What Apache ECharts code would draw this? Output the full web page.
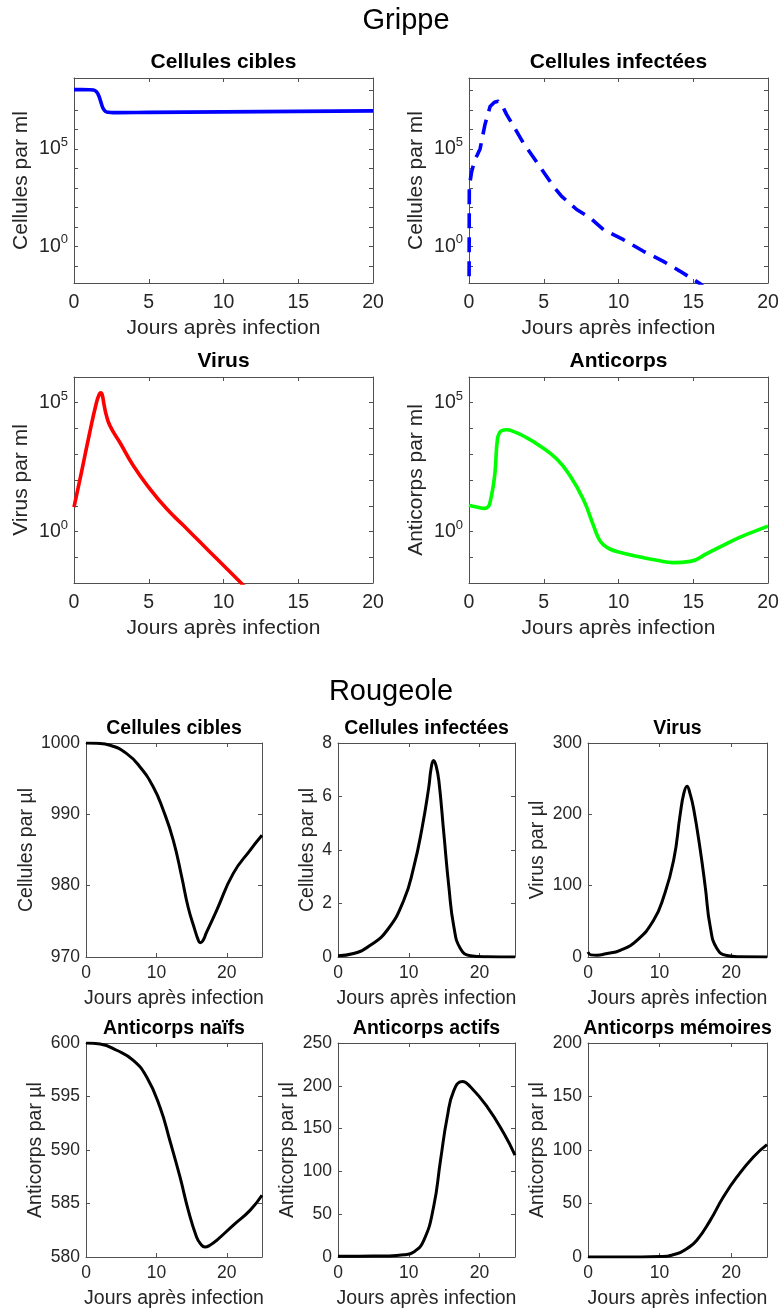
<!DOCTYPE html>
<html>
<head>
<meta charset="utf-8">
<script src="https://cdn.jsdelivr.net/npm/echarts@6/dist/echarts.min.js"></script>
<style>
  html, body { margin: 0; padding: 0; background: #ffffff; }
  #chart { width: 782px; height: 1310px; }
</style>
</head>
<body>
<div id="chart"></div>
<script>
// ---------- Grippe (échelle logarithmique, jours 0–20) ----------
const grippeCiblesJours = [0, 0.5, 1.0, 1.3, 1.5, 1.65, 1.8, 1.95, 2.1, 2.3, 2.6, 3, 5, 10, 15, 20];
const grippeCiblesVal   = [1.1e8, 1.1e8, 1.09e8, 1.05e8, 8.5e7, 5.5e7, 2.5e7, 1.2e7, 8.5e6, 7.6e6, 7.3e6, 7.3e6, 7.5e6, 8.0e6, 8.5e6, 9.0e6];

const grippeInfecteesJours = [0, 0.02, 0.18, 0.4, 0.56, 0.74, 1.07, 1.41, 1.7, 1.95, 2.2, 2.52, 3.0, 3.64, 4.2, 4.87, 5.65, 6.2, 7.2, 8.1, 9.0, 10.33, 11.67, 13.0, 14.1, 15.47, 16];
const grippeInfecteesVal   = [1e-4, 1.2e3, 7e3, 3e4, 5e4, 1e5, 1.8e6, 1.5e7, 2.5e7, 2.8e7, 1.8e7, 5.8e6, 1.4e6, 2e5, 4.9e4, 8.7e3, 1.2e3, 370, 78, 29, 7.2, 2.2, 0.56, 0.17, 0.054, 0.012, 0.005];

const grippeVirusJours = [0, 0.5, 1.0, 1.5, 1.7, 1.8, 1.9, 2.0, 2.15, 2.41, 3.08, 3.97, 5.08, 6.2, 7.31, 8.43, 9.55, 10.66, 11.5];
const grippeVirusVal   = [8.9, 200, 5000, 1e5, 2.2e5, 2.45e5, 1.9e5, 9e4, 3.5e4, 1.26e4, 2.8e3, 355, 45, 7.6, 1.74, 0.39, 0.087, 0.02, 0.0065];

const grippeAnticorpsJours = [0, 0.5, 1.07, 1.3, 1.41, 1.6, 1.74, 1.9, 2.05, 2.2, 2.5, 3.0, 3.64, 4.75, 5.87, 6.76, 7.65, 8.32, 8.7, 9.0, 9.5, 10.0, 11.45, 12.57, 13.68, 14.8, 15.9, 17.0, 18.14, 19.26, 20];
const grippeAnticorpsVal   = [10.5, 8.9, 7.9, 9.5, 13.8, 50, 200, 3800, 7000, 8300, 8900, 7600, 5100, 2100, 650, 145, 17.4, 1.74, 0.5, 0.3, 0.2, 0.16, 0.102, 0.076, 0.062, 0.069, 0.138, 0.29, 0.6, 1.1, 1.62];

// ---------- Rougeole (échelle linéaire, jours 0–25) ----------
const rougeoleCiblesJours = [0, 1.5, 3.4, 5.78, 7.67, 9.56, 10.98, 12.4, 13.6, 14.5, 15.48, 15.9, 16.2, 16.55, 17.1, 18.56, 20.9, 23.3, 25];
const rougeoleCiblesVal   = [1000, 999.95, 999.68, 998.51, 996.64, 993.83, 990.57, 986.36, 981.22, 977.01, 973.74, 972.5, 972.0, 972.2, 973.4, 976.55, 981.69, 984.96, 987.06];

const rougeoleInfecteesJours = [0, 2.2, 4.57, 6.94, 9.29, 10.7, 11.9, 12.83, 13.15, 13.5, 13.85, 14.24, 14.95, 15.66, 16.37, 17.3, 18.7, 21, 25];
const rougeoleInfecteesVal   = [0.05, 0.13, 0.44, 1.0, 2.12, 3.36, 4.86, 6.36, 7.05, 7.35, 7.15, 6.6, 4.61, 2.62, 1.12, 0.31, 0.05, 0.01, 0.0];

const rougeoleVirusJours = [0, 0.4, 1.26, 2.5, 4.5, 6.84, 9.16, 10.56, 11.96, 12.89, 13.4, 13.83, 14.25, 14.75, 15.68, 16.38, 17.08, 18.0, 19.4, 21, 25];
const rougeoleVirusVal   = [7, 3, 2.4, 4.5, 9.4, 23.4, 51.4, 84, 135.6, 201, 230, 239.5, 229, 208, 150, 98, 42, 11.8, 2, 0.3, 0.1];

const rougeoleNaifsJours = [0, 2, 4.36, 6.72, 8.62, 10.5, 11.9, 13.35, 14.53, 15.7, 16.3, 16.9, 17.6, 18.56, 20.9, 23.3, 25];
const rougeoleNaifsVal   = [600, 599.9, 599.32, 598.38, 596.82, 594.02, 590.91, 587.48, 584.36, 581.87, 581.2, 580.93, 581.1, 581.56, 582.96, 584.36, 585.77];

const rougeoleActifsJours = [0, 3, 6.94, 9.29, 10.7, 12.12, 13.5, 14.48, 15.43, 16.37, 17.55, 18.73, 21.1, 23.44, 25];
const rougeoleActifsVal   = [1, 1, 1.2, 2.5, 5.8, 19.5, 58.4, 113, 163.5, 194.7, 205, 198.6, 175.2, 144.2, 119];

const rougeoleMemoiresJours = [0, 5, 10.05, 12.4, 13.8, 15.2, 17.05, 18.9, 20.8, 23.1, 25];
const rougeoleMemoiresVal   = [0, 0, 0.5, 3, 7.8, 15.6, 34, 56, 74.8, 93.5, 105];

// ---------- Graduations ----------
const grippeJoursTicks   = [0, 5, 10, 15, 20];
const rougeoleJoursTicks = [0, 10, 20];
const logLabelTicks      = [1, 1e5];
const logDecadesHaut     = [0.1, 1, 10, 100, 1e3, 1e4, 1e5, 1e6, 1e7, 1e8];
const logDecadesBas      = [0.1, 1, 10, 100, 1e3, 1e4, 1e5];

const FONT = 'Liberation Sans';
const INK = '#262626';
const FRAME = '#505050';
const XNAME = 'Jours après infection';

const zip = (t, v) => t.map((x, i) => [x, v[i]]);

// Panel definitions: box = [left, top, width, height] in px
const panels = [
  { title: 'Cellules cibles', yName: 'Cellules par ml', box: [74, 78, 299, 205], data: zip(grippeCiblesJours, grippeCiblesVal),
    color: '#0000ff', log: [0.0132, 4.37e8], decades: logDecadesHaut, grippe: true, yGap: 42 },
  { title: 'Cellules infectées', yName: 'Cellules par ml', box: [469, 78, 299, 205], data: zip(grippeInfecteesJours, grippeInfecteesVal),
    color: '#0000ff', dashed: true, log: [0.0132, 4.37e8], decades: logDecadesHaut, grippe: true, yGap: 42 },
  { title: 'Virus', yName: 'Virus par ml', box: [74, 377, 299, 206], data: zip(grippeVirusJours, grippeVirusVal),
    color: '#ff0000', log: [0.01, 1e6], decades: logDecadesBas, grippe: true, yGap: 42 },
  { title: 'Anticorps', yName: 'Anticorps par ml', box: [469, 377, 299, 206], data: zip(grippeAnticorpsJours, grippeAnticorpsVal),
    color: '#00ff00', log: [0.01, 1e6], decades: logDecadesBas, grippe: true, yGap: 42 },

  { title: 'Cellules cibles', yName: 'Cellules par µl', box: [86, 743, 176, 214], data: zip(rougeoleCiblesJours, rougeoleCiblesVal),
    color: '#000000', lin: [970, 1000, 10], yGap: 49 },
  { title: 'Cellules infectées', yName: 'Cellules par µl', box: [338, 743, 177, 214], data: zip(rougeoleInfecteesJours, rougeoleInfecteesVal),
    color: '#000000', lin: [0, 8, 2], yGap: 20 },
  { title: 'Virus', yName: 'Virus par µl', box: [588, 743, 179, 214], data: zip(rougeoleVirusJours, rougeoleVirusVal),
    color: '#000000', lin: [0, 300, 100], yGap: 40 },
  { title: 'Anticorps naïfs', yName: 'Anticorps par µl', box: [86, 1043, 176, 214], data: zip(rougeoleNaifsJours, rougeoleNaifsVal),
    color: '#000000', lin: [580, 600, 5], yGap: 40 },
  { title: 'Anticorps actifs', yName: 'Anticorps par µl', box: [338, 1043, 177, 214], data: zip(rougeoleActifsJours, rougeoleActifsVal),
    color: '#000000', lin: [0, 250, 50], yGap: 40 },
  { title: 'Anticorps mémoires', yName: 'Anticorps par µl', box: [588, 1043, 179, 214], data: zip(rougeoleMemoiresJours, rougeoleMemoiresVal),
    color: '#000000', lin: [0, 200, 50], yGap: 40 }
];

const grids = [], xAxes = [], yAxes = [], series = [];
const titles = [
  { text: 'Grippe', left: 406, top: 6, textAlign: 'center', padding: 0,
    textStyle: { fontFamily: FONT, fontSize: 29, fontWeight: 'normal', color: '#000' } },
  { text: 'Rougeole', left: 391, top: 677, textAlign: 'center', padding: 0,
    textStyle: { fontFamily: FONT, fontSize: 29, fontWeight: 'normal', color: '#000' } }
];

const logLabel = v => {
  const e = Math.log10(v);
  const r = Math.round(e);
  if (Math.abs(e - r) > 0.01 || r % 5 !== 0) return '';
  return '{b|10}{s|' + r + '}';
};
const plainLabel = v => String(v);

panels.forEach((p, i) => {
  const [left, top, width, height] = p.box;
  const g = !!p.grippe;
  const tickFs = g ? 19.5 : 17.5;
  const nameFs = g ? 21 : 19.5;
  const titleFs = g ? 21 : 19.5;

  grids.push({ left, top, width, height, containLabel: false });

  titles.push({
    text: p.title, left: left + width / 2, top: top - (g ? 26 : 24), textAlign: 'center', padding: 0,
    textStyle: { fontFamily: FONT, fontSize: titleFs, fontWeight: 'bold', color: '#000' }
  });

  const tickCommon = { show: true, inside: true, length: 4, lineStyle: { color: FRAME, width: 1 } };
  const lineCommon = { show: true, onZero: false, lineStyle: { color: FRAME, width: 1 } };
  const xTicks = g ? grippeJoursTicks : rougeoleJoursTicks;
  const xMax = g ? 20 : 25;

  const xBase = {
    type: 'value', gridIndex: i, min: 0, max: xMax,
    axisLine: lineCommon, splitLine: { show: false },
    axisTick: Object.assign({ customValues: xTicks }, tickCommon)
  };
  xAxes.push(Object.assign({}, xBase, {
    position: 'bottom',
    axisLabel: { customValues: xTicks, formatter: plainLabel, margin: g ? 10 : 7, fontFamily: FONT, fontSize: tickFs, color: INK },
    name: XNAME, nameLocation: 'middle', nameGap: g ? 35 : 32,
    nameTextStyle: { fontFamily: FONT, fontSize: nameFs, color: INK }
  }));
  xAxes.push(Object.assign({}, xBase, { position: 'top', axisLabel: { show: false } }));

  let yBase;
  if (p.log) {
    yBase = {
      type: 'log', logBase: 10, gridIndex: i, min: p.log[0], max: p.log[1],
      axisLine: lineCommon, splitLine: { show: false }, minorTick: { show: false },
      axisTick: Object.assign({ customValues: p.decades }, tickCommon)
    };
  } else {
    yBase = {
      type: 'value', gridIndex: i, min: p.lin[0], max: p.lin[1], interval: p.lin[2],
      axisLine: lineCommon, splitLine: { show: false },
      axisTick: tickCommon
    };
  }
  const yLabel = p.log
    ? { customValues: logLabelTicks, formatter: logLabel, margin: 6, fontFamily: FONT, fontSize: tickFs, color: INK,
        rich: { b: { fontFamily: FONT, fontSize: tickFs, color: INK, lineHeight: 26 },
                s: { fontFamily: FONT, fontSize: 13, color: INK, verticalAlign: 'top', lineHeight: 26 } } }
    : { formatter: plainLabel, margin: 6, fontFamily: FONT, fontSize: tickFs, color: INK };

  yAxes.push(Object.assign({}, yBase, {
    position: 'left', axisLabel: yLabel,
    name: p.yName, nameLocation: 'middle', nameGap: p.yGap,
    nameTextStyle: { fontFamily: FONT, fontSize: nameFs, color: INK }
  }));
  yAxes.push(Object.assign({}, yBase, { position: 'right', axisLabel: { show: false } }));

  series.push({
    type: 'line', xAxisIndex: 2 * i, yAxisIndex: 2 * i, data: p.data,
    showSymbol: false, symbol: 'none', clip: true, silent: true,
    smooth: p.dashed ? false : 0.5,
    lineStyle: {
      color: p.color, width: g ? 3.6 : 3,
      type: p.dashed ? [15, 9] : 'solid', cap: 'butt', join: 'round'
    }
  });
});

const chart = echarts.init(document.getElementById('chart'), null, { renderer: 'canvas', width: 782, height: 1310 });
chart.setOption({
  backgroundColor: '#ffffff',
  animation: false,
  title: titles,
  grid: grids,
  xAxis: xAxes,
  yAxis: yAxes,
  series: series
});
</script>
</body>
</html>
